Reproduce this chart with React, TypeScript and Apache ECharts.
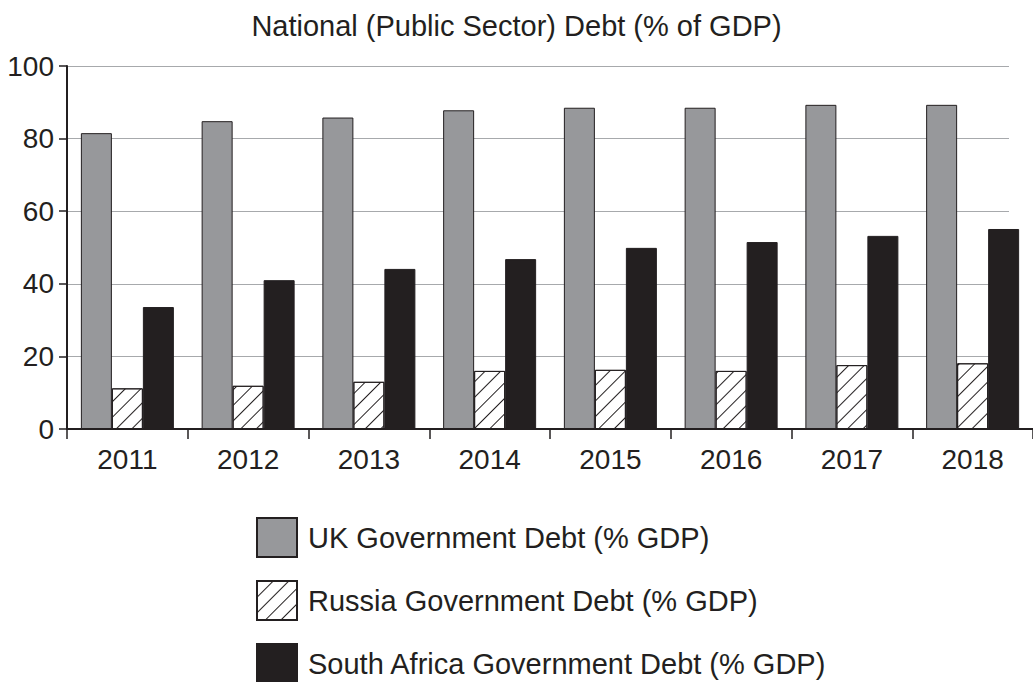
import React, { useEffect, useRef } from "react";
import * as echarts from "echarts";

const years = ["2011", "2012", "2013", "2014", "2015", "2016", "2017", "2018"];
const ukDebt = [81.5, 84.8, 85.8, 87.8, 88.5, 88.5, 89.3, 89.3];
const russiaDebt = [11.2, 11.9, 13.0, 16.0, 16.3, 16.0, 17.6, 18.1];
const southAfricaDebt = [33.6, 41.0, 44.1, 46.8, 49.9, 51.5, 53.2, 55.1];
const seriesNames = [
  "UK Government Debt (% GDP)",
  "Russia Government Debt (% GDP)",
  "South Africa Government Debt (% GDP)",
];
const title = "National (Public Sector) Debt (% of GDP)";

const FONT = "'Liberation Sans', Arial, sans-serif";
const INK = "#231f20";

export default function App() {
  const ref = useRef<HTMLDivElement>(null);
  useEffect(() => {
    if (!ref.current) return;
    const chart = echarts.init(ref.current, null, { renderer: "svg" });
    const legendTops = [517, 580, 643];
    chart.setOption({
      animation: false,
      backgroundColor: "#ffffff",
      textStyle: { fontFamily: FONT, color: INK },
      title: {
        text: title,
        left: "center",
        top: 6,
        textStyle: { fontFamily: FONT, fontSize: 29, fontWeight: "normal", color: INK },
      },
      legend: seriesNames.map((name, i) => ({
        orient: "vertical",
        left: 256,
        top: legendTops[i],
        padding: 0,
        icon: "rect",
        itemWidth: 40,
        itemHeight: 39,
        textStyle: { fontFamily: FONT, fontSize: 29, color: INK, padding: [0, 0, 0, 6] },
        data: [name],
      })),
      grid: [
        { left: 67, right: -2, top: 66, bottom: 253, containLabel: false },
        { left: 67, right: 24, top: 66, bottom: 253, containLabel: false },
      ],
      xAxis: [
        {
          type: "category",
          gridIndex: 0,
          data: years,
          axisLine: { lineStyle: { color: INK, width: 2 } },
          axisTick: { show: true, length: 10, lineStyle: { color: INK, width: 1.5 } },
          axisLabel: { fontFamily: FONT, fontSize: 28, color: INK, margin: 16 },
        },
        { type: "category", gridIndex: 1, data: years, show: false },
      ],
      yAxis: [
        {
          type: "value",
          gridIndex: 0,
          min: 0,
          max: 100,
          interval: 20,
          axisLine: { show: true, lineStyle: { color: INK, width: 2 } },
          axisTick: { show: true, length: 8, lineStyle: { color: INK, width: 1.5 } },
          axisLabel: { fontFamily: FONT, fontSize: 28, color: INK, margin: 13 },
          splitLine: { show: false },
        },
        {
          type: "value",
          gridIndex: 1,
          min: 0,
          max: 100,
          interval: 20,
          axisLine: { show: false },
          axisTick: { show: false },
          axisLabel: { show: false },
          splitLine: { show: true, lineStyle: { color: "#a7a9ac", width: 1 } },
        },
      ],
      series: [
        {
          name: seriesNames[0],
          type: "bar",
          xAxisIndex: 0,
          yAxisIndex: 0,
          data: ukDebt,
          barWidth: 31,
          barGap: "0%",
          itemStyle: { color: "#97989b", borderColor: INK, borderWidth: 1 },
        },
        {
          name: seriesNames[1],
          type: "bar",
          xAxisIndex: 0,
          yAxisIndex: 0,
          data: russiaDebt,
          barWidth: 31,
          barGap: "0%",
          itemStyle: {
            color: "#ffffff",
            borderColor: INK,
            borderWidth: 1,
            decal: {
              symbol: "rect",
              symbolSize: 1,
              color: INK,
              backgroundColor: "#ffffff",
              dashArrayX: [1, 0],
              dashArrayY: [1, 10],
              rotation: -Math.PI / 4,
            },
          },
        },
        {
          name: seriesNames[2],
          type: "bar",
          xAxisIndex: 0,
          yAxisIndex: 0,
          data: southAfricaDebt,
          barWidth: 31,
          barGap: "0%",
          itemStyle: { color: INK, borderColor: INK, borderWidth: 1 },
        },
      ],
    });
    return () => chart.dispose();
  }, []);
  return (
    <div
      ref={ref}
      style={{ position: "absolute", left: 0, top: 0, width: 1033, height: 682 }}
    />
  );
}
